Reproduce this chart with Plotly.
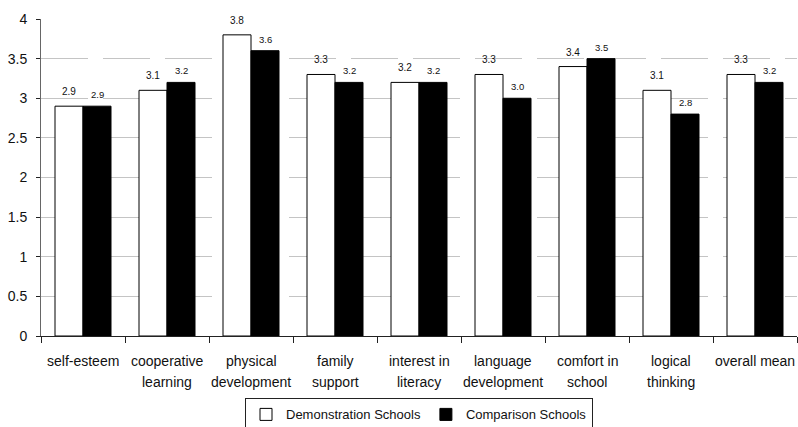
import plotly.graph_objects as go

# Category labels, one list entry per printed line
label_lines = [
    ["self-esteem"],
    ["cooperative", "learning"],
    ["physical", "development"],
    ["family", "support"],
    ["interest in", "literacy"],
    ["language", "development"],
    ["comfort in", "school"],
    ["logical", "thinking"],
    ["overall mean"],
]
categories = [" ".join(lines) for lines in label_lines]

demonstration = [2.9, 3.1, 3.8, 3.3, 3.2, 3.3, 3.4, 3.1, 3.3]
comparison = [2.9, 3.2, 3.6, 3.2, 3.2, 3.0, 3.5, 2.8, 3.2]

y_ticks = [0, 0.5, 1, 1.5, 2, 2.5, 3, 3.5, 4]
y_tick_text = ["0", "0.5", "1", "1.5", "2", "2.5", "3", "3.5", "4"]

FONT = "Liberation Sans, Arial, sans-serif"

fig = go.Figure()
fig.add_trace(go.Bar(
    name="Demonstration Schools", x=categories, y=demonstration,
    marker=dict(color="white", line=dict(color="black", width=1)),
))
fig.add_trace(go.Bar(
    name="Comparison Schools", x=categories, y=comparison,
    marker=dict(color="black", line=dict(color="black", width=1)),
))

annotations = []
# value labels above each bar
for cat, d, c in zip(categories, demonstration, comparison):
    annotations.append(dict(
        x=cat, y=d, xref="x", yref="y", text=f"{d:.1f}", showarrow=False,
        xshift=-14, yshift=7, yanchor="bottom",
        font=dict(family=FONT, size=10, color="#111"),
    ))
    annotations.append(dict(
        x=cat, y=c, xref="x", yref="y", text=f"{c:.1f}", showarrow=False,
        xshift=14, yshift=4, yanchor="bottom",
        font=dict(family=FONT, size=9.5, color="#111"),
    ))
# category names, drawn line by line below the axis
for cat, lines in zip(categories, label_lines):
    for i, line in enumerate(lines):
        annotations.append(dict(
            x=cat, y=0, xref="x", yref="paper", text=line, showarrow=False,
            yanchor="middle", yshift=-25 - 21 * i,
            font=dict(family=FONT, size=14, color="#111"),
        ))

fig.update_layout(
    width=798, height=427,
    margin=dict(l=41, r=1, t=19, b=91, autoexpand=False),
    paper_bgcolor="white", plot_bgcolor="white",
    barmode="group", bargap=1 / 3, bargroupgap=0,
    font=dict(family=FONT, size=13, color="#111"),
    showlegend=True,
    legend=dict(
        orientation="h", x=0.5, xanchor="center", y=-0.197, yanchor="top",
        bordercolor="#222", borderwidth=1, bgcolor="white",
        font=dict(family=FONT, size=13, color="#111"),
        itemwidth=30, tracegroupgap=0,
    ),
    xaxis=dict(
        type="category", categoryorder="array", categoryarray=categories,
        range=[-0.5, len(categories) - 0.5],
        showticklabels=False, tickson="boundaries",
        ticks="outside", ticklen=6, tickcolor="#222", tickwidth=1,
        showline=True, linecolor="#222", linewidth=1,
        showgrid=False, zeroline=False,
    ),
    yaxis=dict(
        range=[0, 4], tickvals=y_ticks, ticktext=y_tick_text,
        ticks="outside", ticklen=4, tickcolor="#222", tickwidth=1,
        ticklabelstandoff=6,
        tickfont=dict(family=FONT, size=14, color="#111"),
        showline=True, linecolor="#666", linewidth=1,
        showgrid=True, gridcolor="#c4c4c4", gridwidth=1, griddash="47px,15px",
        zeroline=False,
    ),
    # inner halves of the crossing tick marks
    xaxis2=dict(
        type="category", categoryorder="array", categoryarray=categories,
        range=[-0.5, len(categories) - 0.5], overlaying="x", anchor="y",
        side="bottom", showticklabels=False, tickson="boundaries",
        ticks="inside", ticklen=5, tickcolor="#222",
        showgrid=False, zeroline=False, showline=False,
    ),
    yaxis2=dict(
        range=[0, 4], tickvals=y_ticks, overlaying="y", anchor="x", side="left",
        showticklabels=False, ticks="inside", ticklen=4, tickcolor="#222",
        showgrid=False, zeroline=False, showline=False,
    ),
    annotations=annotations,
)

fig.write_html("out.html")
